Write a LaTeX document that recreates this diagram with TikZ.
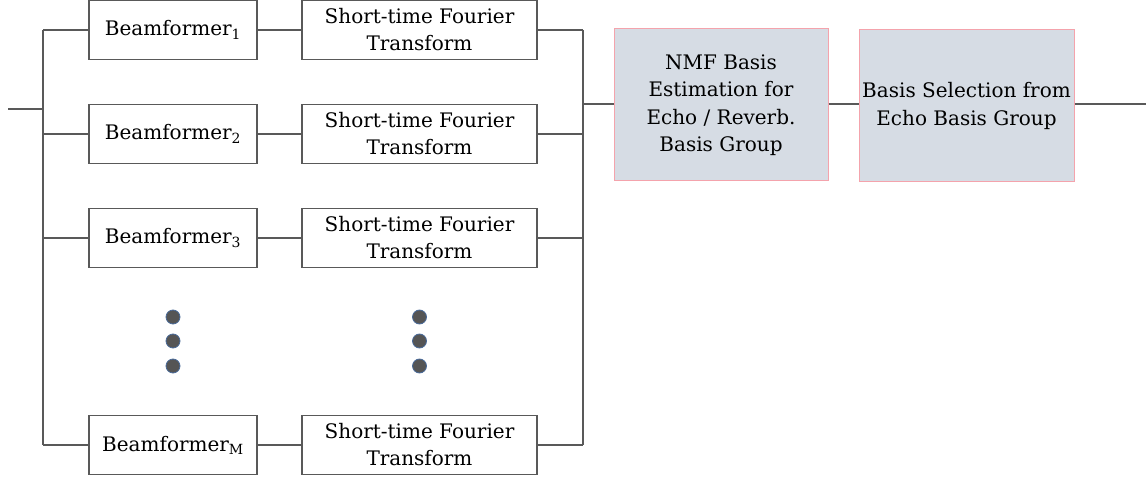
\documentclass[tikz,border=0pt]{standalone}
\usepackage{fontspec}
\setmainfont{DejaVu Serif}
\begin{document}
\begin{tikzpicture}[x=1pt,y=-1pt,
  line/.style={draw=linegray,line width=1.2pt},
  wbox/.style={draw=linegray,line width=1.2pt,fill=white,inner sep=0pt,align=center,
    font=\fontsize{20}{27}\selectfont,text=black},
  gbox/.style={draw=pinkedge,line width=1pt,fill=boxfill,inner sep=0pt,align=center,
    font=\fontsize{20}{27.5}\selectfont,text=black,minimum width=214pt,minimum height=152pt},
  dot/.style={circle,fill=dotfill,draw=dotedge,line width=0.8pt,inner sep=0pt,minimum size=14pt}]
\definecolor{linegray}{HTML}{595959}
\definecolor{boxfill}{HTML}{D6DCE4}
\definecolor{pinkedge}{HTML}{F4A3AC}
\definecolor{dotfill}{HTML}{555555}
\definecolor{dotedge}{HTML}{4A6B9A}
\useasboundingbox (0,0) rectangle (1146,481);
% beamformers
\foreach \i/\y/\s in {1/30/1,2/134/2,3/238/3,4/445/M}{
  \node[wbox,minimum width=168pt,minimum height=59pt] (bf\i) at (173,\y) {Beamformer\textsubscript{\s}};
  \node[wbox,minimum width=235pt,minimum height=59pt] (st\i) at (419.5,\y) {Short-time Fourier\\Transform};
  \coordinate (L\i) at (43,\y);
  \coordinate (R\i) at (583,\y);
  \draw[line] (L\i) -- (bf\i.west);
  \draw[line] (bf\i.east) -- (st\i.west);
  \draw[line] (st\i.east) -- (R\i);
}
\coordinate (in) at (8,109);
\coordinate (inj) at (43,109);
\coordinate (outj) at (583,104);
\draw[line] (L1) -- (L4);
\draw[line] (R1) -- (R4);
\draw[line] (in) -- (inj);
\node[gbox] (nmf) at (721,105) {NMF Basis\\Estimation for\\Echo / Reverb.\\Basis Group};
\node[gbox,minimum width=215pt] (bs) at (966.5,106) {Basis Selection from\\Echo Basis Group};
\coordinate (out) at (1146,104);
\draw[line] (outj) -- (outj -| nmf.west);
\draw[line] (nmf.east |- 0,104) -- (bs.west |- 0,104);
\draw[line] (bs.east |- 0,104) -- (out);
% dots
\foreach \y [count=\k] in {317,341,366}{
  \node[dot] (da\k) at (173,\y) {};
  \node[dot] (db\k) at (419.5,\y) {};
}
\end{tikzpicture}
\end{document}
